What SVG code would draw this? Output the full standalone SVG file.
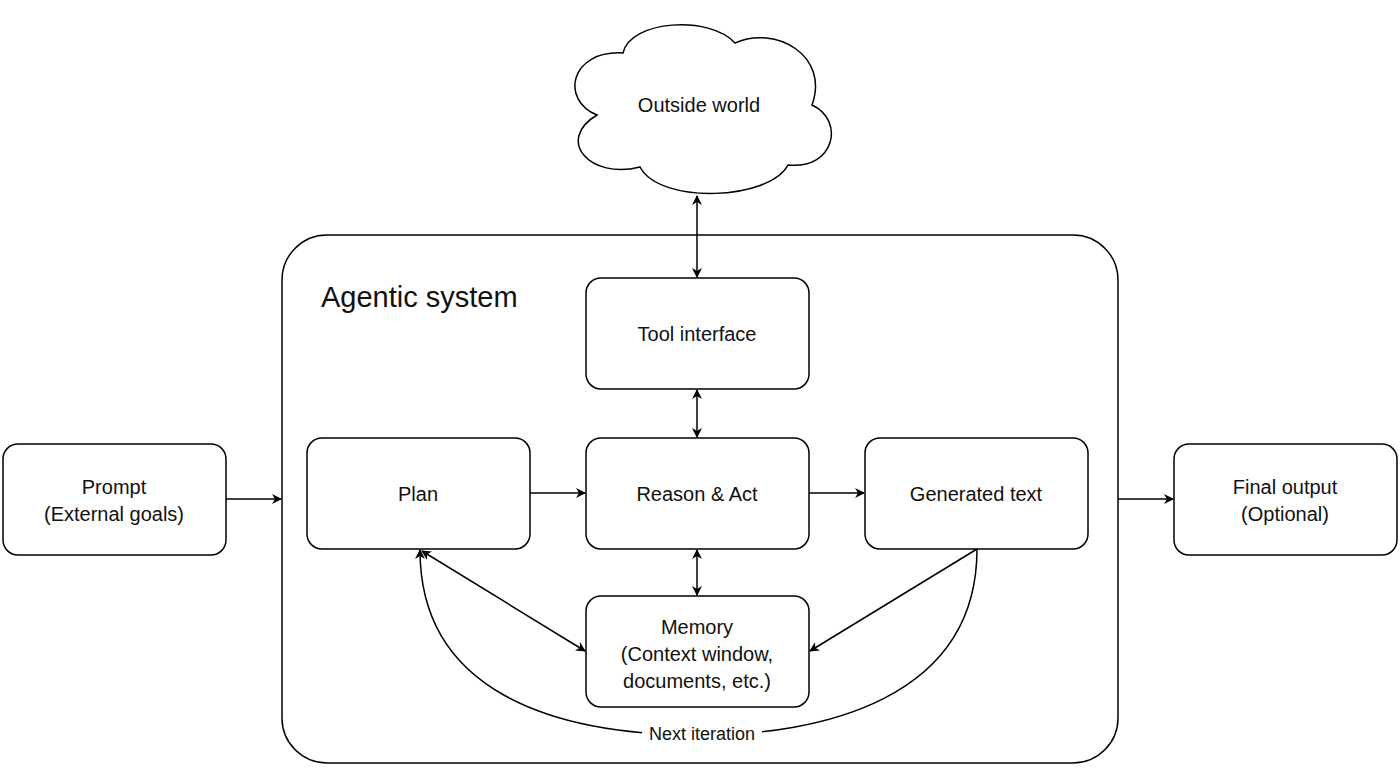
<svg xmlns="http://www.w3.org/2000/svg" width="1400" height="768" viewBox="0 0 1400 768">
<style>
.n{fill:#fff;stroke:#000;stroke-width:1.5}
.t{font-family:"Liberation Sans",Arial,sans-serif;font-size:20px;fill:#111;text-anchor:middle}
.c{fill:none;stroke:#000;stroke-width:1.5}
</style>
<defs>
<marker id="a" viewBox="0 0 10 10" refX="9" refY="5" markerWidth="10" markerHeight="10" markerUnits="userSpaceOnUse" orient="auto-start-reverse"><path d="M0,0 L10,5 L0,10 L3,5 Z" fill="#000"/></marker>
</defs>
<rect width="1400" height="768" fill="#fff"/>
<g id="container"><rect class="n" x="282" y="235" width="836" height="528" rx="45"/><text x="321" y="307" font-family="Liberation Sans,Arial,sans-serif" font-size="29" fill="#111">Agentic system</text></g>
<g id="cloud"><path class="n" d="M623,53 C630,20 710,15 735,43 C775,25 830,55 812,105 C845,120 835,170 788,165 C770,200 660,205 640,167 C590,180 555,140 597,115 C560,100 570,50 623,53 Z"/><text class="t" x="699" y="112">Outside world</text></g>
<g id="tool"><rect class="n" x="586" y="278" width="223" height="111" rx="15"/><text class="t" x="697" y="341">Tool interface</text></g>
<g id="plan"><rect class="n" x="307" y="438" width="223" height="111" rx="15"/><text class="t" x="418" y="501">Plan</text></g>
<g id="reason"><rect class="n" x="586" y="438" width="223" height="111" rx="15"/><text class="t" x="697" y="501">Reason &amp; Act</text></g>
<g id="gen"><rect class="n" x="865" y="438" width="223" height="111" rx="15"/><text class="t" x="976" y="501">Generated text</text></g>
<g id="memory"><rect class="n" x="586" y="596" width="223" height="111" rx="15"/><text class="t" x="697" y="634">Memory</text><text class="t" x="697" y="661">(Context window,</text><text class="t" x="697" y="688">documents, etc.)</text></g>
<g id="prompt"><rect class="n" x="3" y="444" width="223" height="111" rx="15"/><text class="t" x="114" y="494">Prompt</text><text class="t" x="114" y="521">(External goals)</text></g>
<g id="final"><rect class="n" x="1174" y="444" width="223" height="111" rx="15"/><text class="t" x="1285" y="494">Final output</text><text class="t" x="1285" y="521">(Optional)</text></g>
<g id="connectors">
<line class="c" x1="226" y1="499" x2="281" y2="499" marker-end="url(#a)"/>
<line class="c" x1="1118" y1="499" x2="1173" y2="499" marker-end="url(#a)"/>
<line class="c" x1="530" y1="493" x2="585" y2="493" marker-end="url(#a)"/>
<line class="c" x1="809" y1="493" x2="864" y2="493" marker-end="url(#a)"/>
<line class="c" x1="697" y1="196" x2="697" y2="277" marker-start="url(#a)" marker-end="url(#a)"/>
<line class="c" x1="697" y1="390" x2="697" y2="437" marker-start="url(#a)" marker-end="url(#a)"/>
<line class="c" x1="697" y1="550" x2="697" y2="595" marker-start="url(#a)" marker-end="url(#a)"/>
<line class="c" x1="422" y1="551" x2="585" y2="651" marker-start="url(#a)" marker-end="url(#a)"/>
<line class="c" x1="977" y1="549" x2="810" y2="651" marker-end="url(#a)"/>
<path class="c" d="M977,549 C977,700 820,735 700,735 C550,735 420,690 420,550" marker-end="url(#a)"/>
<rect x="642" y="724" width="120" height="20" fill="#fff"/>
<text class="t" x="702" y="740" font-size="18" style="font-size:18px">Next iteration</text>
</g>
</svg>
